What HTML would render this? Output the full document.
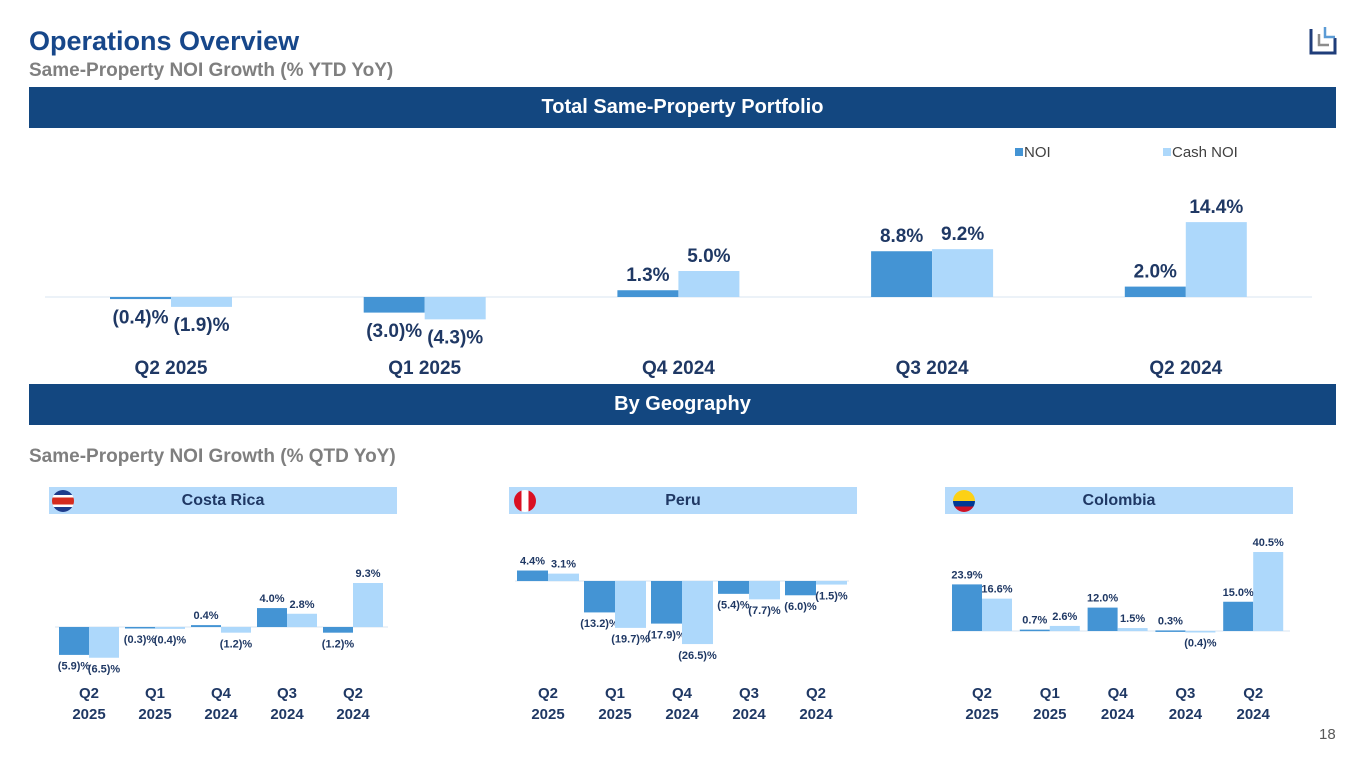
<!DOCTYPE html>
<html><head><meta charset="utf-8">
<style>
body{margin:0;width:1365px;height:768px;background:#fff;font-family:"Liberation Sans",sans-serif;position:relative;overflow:hidden}
.abs{position:absolute}
.band{position:absolute;background:#134780;color:#fff;font-weight:bold;font-size:20px;text-align:center}
.sub{position:absolute;background:#b4dafb;color:#1f3864;font-weight:bold;font-size:16px;text-align:center;line-height:27px}
svg text{font-family:"Liberation Sans",sans-serif;font-weight:bold;fill:#1f3864}
</style></head><body>
<div class="abs" style="left:29px;top:26px;font-size:27px;font-weight:bold;color:#17478a">Operations Overview</div>
<div class="abs" style="left:29px;top:60px;font-size:19px;font-weight:bold;color:#7f7f7f">Same-Property NOI Growth (% YTD YoY)</div>
<svg class="abs" style="left:1308px;top:26px" width="30" height="30" viewBox="0 0 30 30">
<path d="M3 3v24h24V12" fill="none" stroke="#1f3d7a" stroke-width="3"/>
<path d="M17 1v10h10" fill="none" stroke="#5b9bd5" stroke-width="2.5"/>
<path d="M11 8v11h10" fill="none" stroke="#8c8c8c" stroke-width="2.5"/>
</svg>
<div class="band" style="left:29px;top:87px;width:1307px;height:41px;line-height:41px">Total Same-Property Portfolio</div>
<div class="band" style="left:29px;top:384px;width:1307px;height:41px;line-height:41px">By Geography</div>
<div class="abs" style="left:29px;top:446px;font-size:19px;font-weight:bold;color:#7f7f7f">Same-Property NOI Growth (% QTD YoY)</div>

<div class="sub" style="left:49px;top:487px;width:348px;height:27px">Costa Rica</div>
<div class="sub" style="left:509px;top:487px;width:348px;height:27px">Peru</div>
<div class="sub" style="left:945px;top:487px;width:348px;height:27px">Colombia</div>
<div class="abs" style="left:52px;top:490px;width:22px;height:22px;border-radius:50%;background:linear-gradient(#1e3c8c 0 22%,#fff 22% 35%,#d52b1e 35% 65%,#fff 65% 78%,#1e3c8c 78%)"></div>
<div class="abs" style="left:514px;top:490px;width:22px;height:22px;border-radius:50%;background:linear-gradient(90deg,#d91023 0 33%,#fff 33% 67%,#d91023 67%)"></div>
<div class="abs" style="left:953px;top:490px;width:22px;height:22px;border-radius:50%;background:linear-gradient(#fcd116 0 50%,#003893 50% 75%,#ce1126 75%)"></div>
<div class="abs" style="left:1319px;top:726px;font-size:15px;color:#595959">18</div>

<svg id="chart" class="abs" style="left:0;top:0" width="1365" height="768"></svg>
<script>
const mainCats=["Q2 2025","Q1 2025","Q4 2024","Q3 2024","Q2 2024"];
const mainNoi=[-0.4,-3.0,1.3,8.8,2.0];
const mainCash=[-1.9,-4.3,5.0,9.2,14.4];
const geoCats=[["Q2","2025"],["Q1","2025"],["Q4","2024"],["Q3","2024"],["Q2","2024"]];
const crNoi=[-5.9,-0.3,0.4,4.0,-1.2];
const crCash=[-6.5,-0.4,-1.2,2.8,9.3];
const peNoi=[4.4,-13.2,-17.9,-5.4,-6.0];
const peCash=[3.1,-19.7,-26.5,-7.7,-1.5];
const coNoi=[23.9,0.7,12.0,0.3,15.0];
const coCash=[16.6,2.6,1.5,-0.4,40.5];

const svg=document.getElementById('chart');
const NS='http://www.w3.org/2000/svg';
function mk(tag,attrs,parent){const e=document.createElementNS(NS,tag);for(const k in attrs)e.setAttribute(k,attrs[k]);(parent||svg).appendChild(e);return e;}
function fmt(v){return v<0?'('+Math.abs(v).toFixed(1)+')%':v.toFixed(1)+'%';}

function drawChart(o){
  const g=mk('g',{});
  
  
  const y=v=>o.base-v*o.scale;
  const x=i=>o.x0+i*o.step;
  mk('line',{x1:o.axL,x2:o.axR,y1:o.base,y2:o.base,stroke:'#d9e6f2','stroke-width':1},g);
  [[o.noi,'#4494d4',-1],[o.cash,'#add8fb',0]].forEach(([arr,col,off],si)=>{
    arr.forEach((v,i)=>{
      const bx=x(i)+off*o.bw;
      const r=mk('rect',{x:bx,y:Math.min(y(v),o.base),width:o.bw,height:Math.max(Math.abs(v*o.scale),1.5),fill:col},g);
      
      
      const ty=v>=0?y(v)-o.lo:y(v)+o.lo+o.fs*0.8;
      const t=mk('text',{x:bx+o.bw/2,y:ty,'text-anchor':'middle','font-size':o.fs},g);
      t.textContent=fmt(v);
      
      
    });
  });
  o.cats.forEach((c,i)=>{
    const lines=Array.isArray(c)?c:[c];
    lines.forEach((l,j)=>{
      const t=mk('text',{x:x(i),y:o.catY+j*o.catLH,'text-anchor':'middle','font-size':o.catFs},g);
      t.textContent=l;
      
      
    });
  });
}
drawChart({name:'total-portfolio-chart',cats:mainCats,noi:mainNoi,cash:mainCash,base:297,scale:5.2,x0:171,step:253.7,bw:61,axL:45,axR:1312,fs:19,lo:9,catY:374,catLH:0,catFs:19});
drawChart({name:'costa-rica-chart',cats:geoCats,noi:crNoi,cash:crCash,base:627,scale:4.73,x0:89,step:66,bw:30,axL:55,axR:388,fs:11,lo:6,catY:698,catLH:21,catFs:15});
drawChart({name:'peru-chart',cats:geoCats,noi:peNoi,cash:peCash,base:581,scale:2.38,x0:548,step:67,bw:31,axL:515,axR:849,fs:11,lo:6,catY:698,catLH:21,catFs:15});
drawChart({name:'colombia-chart',cats:geoCats,noi:coNoi,cash:coCash,base:631,scale:1.95,x0:982,step:67.8,bw:30,axL:950,axR:1290,fs:11,lo:6,catY:698,catLH:21,catFs:15});

const lg=mk('g',{});


mk('rect',{x:1015,y:148,width:8,height:8,fill:'#4494d4'},lg);
const l1=mk('text',{x:1024,y:157,'font-size':15,style:'font-weight:normal;fill:#404040'},lg);l1.textContent='NOI';


mk('rect',{x:1163,y:148,width:8,height:8,fill:'#add8fb'},lg);
const l2=mk('text',{x:1172,y:157,'font-size':15,style:'font-weight:normal;fill:#404040'},lg);l2.textContent='Cash NOI';


</script>
</body></html>
